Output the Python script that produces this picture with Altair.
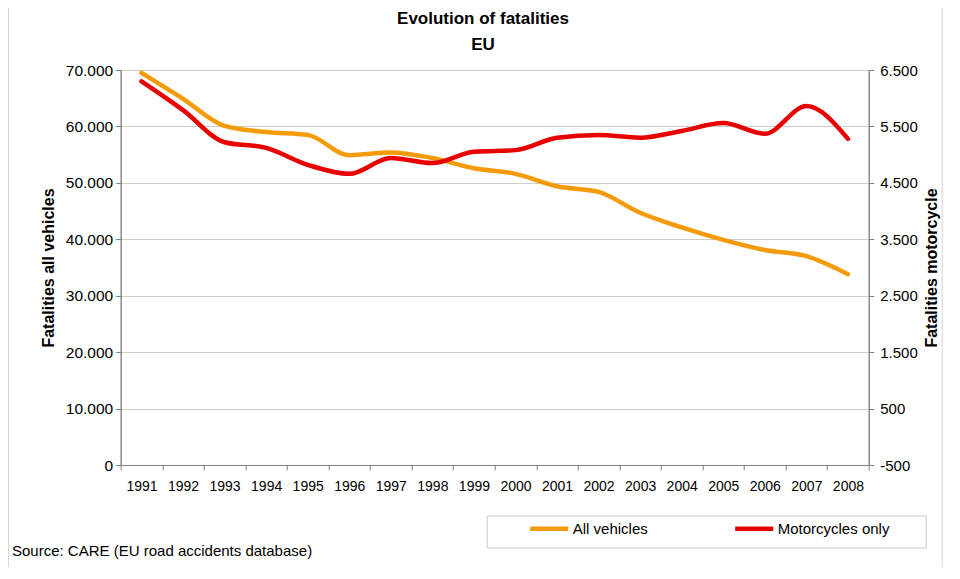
import altair as alt
import pandas as pd

years = list(range(1991, 2009))
all_vehicles = [69500, 64900, 60100, 59000, 58500, 54900, 55400, 54400, 52600, 51600,
                49400, 48400, 44700, 42100, 39900, 38100, 37000, 33800]
motorcycles = [6300, 5790, 5220, 5120, 4820, 4660, 4940, 4850, 5050, 5080,
               5300, 5350, 5300, 5420, 5560, 5370, 5860, 5280]
left_ticks = list(range(0, 70001, 10000))
right_ticks = list(range(-500, 6501, 1000))
series_names = ["All vehicles", "Motorcycles only"]
series_colors = ["#F49B0B", "#E80000"]
title_lines = ["Evolution of fatalities", "EU"]
source_text = "Source: CARE (EU road accidents database)"

FONT = "Liberation Sans"
W, H = 748, 395
year_w = W / len(years)

df = pd.DataFrame({"year": years, "all": all_vehicles, "moto": motorcycles})

color_scale = alt.Scale(domain=series_names, range=series_colors)
x_ticks = [y - 0.5 for y in years] + [years[-1] + 0.5]

x_enc = alt.X(
    "year:Q",
    scale=alt.Scale(domain=[years[0] - 0.5, years[-1] + 0.5], nice=False, zero=False),
    axis=alt.Axis(
        values=x_ticks,
        labelExpr="datum.value < %s ? format(datum.value + 0.5, 'd') : ''" % (years[-1]),
        labelOffset=year_w / 2,
        labelOverlap=False,
        labelFlush=False,
        labelBound=False,
        grid=False,
        title=None,
        labelFontSize=14,
        labelPadding=9,
        tickSize=5,
    ),
)

fmt = "replace(replace(format(datum.value, ','), ',', '.'), '\u2212', '-')"

base = alt.Chart(df)

line_all = base.mark_line(strokeWidth=4.5, interpolate="monotone", strokeCap="round").transform_calculate(
    series="'%s'" % series_names[0]
).encode(
    x=x_enc,
    y=alt.Y(
        "all:Q",
        scale=alt.Scale(domain=[0, 70000], nice=False),
        axis=alt.Axis(
            values=left_ticks,
            labelExpr=fmt,
            grid=True,
            gridColor="#cccccc",
            title="Fatalities all vehicles",
            titleFontSize=16,
            titleFontWeight="bold",
            titleAngle=270,
            titleX=-72,
            titleY=H / 2,
            titleBaseline="middle",
            titleAlign="center",
            labelFontSize=15.5,
            labelPadding=3,
            tickSize=5,
        ),
    ),
    color=alt.Color("series:N", scale=color_scale, legend=alt.Legend(title=None)),
)

line_moto = base.mark_line(strokeWidth=4.5, interpolate="monotone", strokeCap="round").transform_calculate(
    series="'%s'" % series_names[1]
).encode(
    x=x_enc,
    y=alt.Y(
        "moto:Q",
        scale=alt.Scale(domain=[-500, 6500], nice=False, zero=False),
        axis=alt.Axis(
            orient="right",
            values=right_ticks,
            labelExpr=fmt,
            grid=False,
            title="Fatalities motorcycle",
            titleFontSize=16,
            titleFontWeight="bold",
            titleAngle=270,
            titleX=63,
            titleY=H / 2,
            titleBaseline="middle",
            titleAlign="center",
            labelFontSize=15,
            labelPadding=6,
            tickSize=5,
        ),
    ),
    color=alt.Color("series:N", scale=color_scale, legend=alt.Legend(title=None)),
)

legend_box = alt.Chart(pd.DataFrame({"k": [0]})).mark_rect(
    fill="white", stroke="#c8c8c8", strokeWidth=1
).encode(
    x=alt.value(366.5), x2=alt.value(805.5), y=alt.value(446), y2=alt.value(478)
)

frame = alt.Chart(pd.DataFrame({"k": [0]})).mark_rect(
    filled=False, stroke="#d4d4d4", strokeWidth=1
).encode(
    x=alt.value(-112.2), x2=alt.value(821.5), y=alt.value(-69), y2=alt.value(498)
)

source = alt.Chart(pd.DataFrame({"t": [source_text]})).mark_text(
    align="left", baseline="alphabetic", fontSize=15, font=FONT, color="black"
).encode(x=alt.value(-108.7), y=alt.value(486), text="t:N")

def title_line(text, ypos):
    return alt.Chart(pd.DataFrame({"t": [text]})).mark_text(
        align="center", baseline="alphabetic", fontSize=17, fontWeight="bold",
        font=FONT, color="black"
    ).encode(x=alt.value(362.3), y=alt.value(ypos), text="t:N")

title1 = title_line(title_lines[0], -46)
title2 = title_line(title_lines[1], -20)

lines = alt.layer(line_all, line_moto).resolve_scale(y="independent")

chart = alt.layer(frame, legend_box, lines, source, title1, title2).resolve_scale(y="independent").properties(
    width=W,
    height=H,
    autosize=alt.AutoSizeParams(type="none"),
    padding={"left": 112.7, "top": 62, "right": 83.3, "bottom": 102},
).configure(
    font=FONT,
).configure_view(
    stroke="#808080", strokeWidth=1
).configure_axis(
    labelFont=FONT,
    titleFont=FONT,
    labelColor="black",
    titleColor="black",
    domainColor="#808080",
    tickColor="#808080",
).configure_legend(
    orient="none",
    legendX=407,
    legendY=437,
    direction="horizontal",
    symbolType="stroke",
    symbolSize=1444,
    symbolStrokeWidth=4.5,
    labelFontSize=15,
    labelFont=FONT,
    labelColor="black",
    labelOffset=2,
    columnPadding=77,
    padding=0,
)

chart.save("out.html", embed_options={"renderer": "svg", "actions": False})
